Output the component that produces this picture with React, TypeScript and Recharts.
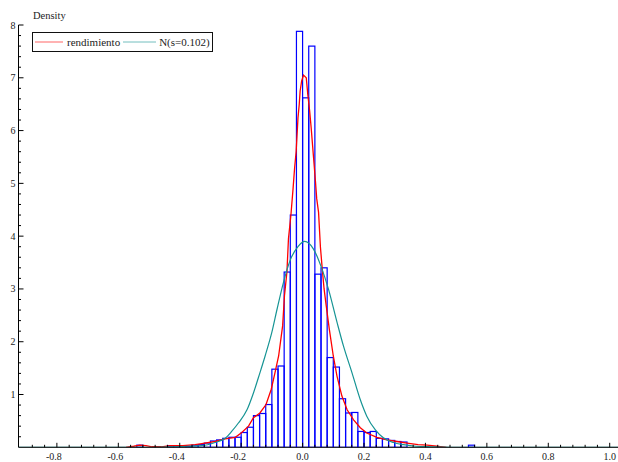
import { ComposedChart, Bar, Line, XAxis, YAxis } from 'recharts';

const X_MIN = -0.925;
const X_MAX = 1.027;
const BIN_WIDTH = 0.02;
const CHART_W = 618;
const CHART_H = 462;
const Y_AXIS_W = 18.5;
const X_AXIS_H = 14.7;
const TOP = 25;

// histogram (bin centres, density)
const binCenters = [
  -0.53, -0.43, -0.41, -0.39, -0.37, -0.35, -0.33, -0.31, -0.29, -0.27, -0.25, -0.23, -0.21,
  -0.19, -0.17, -0.15, -0.13, -0.11, -0.09, -0.07, -0.05, -0.03, -0.01, 0.01, 0.03, 0.05,
  0.07, 0.09, 0.11, 0.13, 0.15, 0.17, 0.19, 0.21, 0.23, 0.25, 0.27, 0.29, 0.31, 0.33, 0.55,
];
const binDensity = [
  0.04, 0.03, 0.03, 0.03, 0.02, 0.04, 0.05, 0.08, 0.12, 0.14, 0.17, 0.19, 0.19,
  0.28, 0.38, 0.6, 0.64, 0.81, 1.48, 1.54, 3.32, 4.4, 7.88, 6.62, 7.6, 3.28,
  3.4, 1.7, 1.52, 0.92, 0.65, 0.66, 0.3, 0.28, 0.3, 0.17, 0.16, 0.13, 0.11, 0.1, 0.04,
];

// kernel density "rendimiento"
const kdeX = [
  -0.575, -0.55, -0.53, -0.51, -0.49, -0.46, -0.43, -0.39, -0.37, -0.35, -0.328, -0.285,
  -0.252, -0.219, -0.198, -0.176, -0.16, -0.139, -0.119, -0.102, -0.09, -0.078, -0.065,
  -0.059, -0.051, -0.046, -0.038, -0.031, -0.026, -0.021, -0.015, -0.011, -0.008, -0.003,
  0.003, 0.012, 0.017, 0.023, 0.028, 0.035, 0.042, 0.046, 0.052, 0.058, 0.064, 0.07, 0.077,
  0.087, 0.1, 0.112, 0.128, 0.145, 0.166, 0.188, 0.209, 0.242, 0.274, 0.307, 0.34, 0.376,
  0.406, 0.437, 0.468,
];
const kdeY = [
  0, 0.02, 0.04, 0.03, 0.01, 0.01, 0.03, 0.03, 0.04, 0.05, 0.07, 0.11,
  0.16, 0.19, 0.28, 0.4, 0.56, 0.65, 0.81, 1.1, 1.41, 1.73, 2.3,
  2.87, 3.32, 3.95, 4.4, 4.9, 5.29, 5.6, 6.24, 6.49, 6.75, 6.94,
  7.05, 7.0, 6.68, 6.37, 6.05, 5.54, 5.03, 4.71, 4.45, 3.8, 3.38, 3.0, 2.68,
  2.24, 1.73, 1.35, 0.97, 0.71, 0.52, 0.37, 0.27, 0.19, 0.14, 0.11, 0.08, 0.05,
  0.04, 0.02, 0,
];

// normal reference "N(s=0.102)"
const normX = [
  -0.925, -0.5, -0.42, -0.37, -0.328, -0.285, -0.252, -0.231, -0.209, -0.181, -0.16, -0.139,
  -0.122, -0.1, -0.083, -0.062, -0.04, -0.015, 0.007, 0.035, 0.063, 0.084, 0.112, 0.133,
  0.161, 0.188, 0.209, 0.237, 0.263, 0.296, 0.329, 0.37, 0.42, 0.5, 1.027,
];
const normY = [
  0, 0, 0.01, 0.02, 0.03, 0.09, 0.17, 0.3, 0.46, 0.71, 1.03, 1.41,
  1.73, 2.18, 2.62, 3.13, 3.55, 3.8, 3.9, 3.76, 3.38, 3.0, 2.37, 1.92,
  1.41, 0.9, 0.59, 0.33, 0.18, 0.09, 0.05, 0.02, 0.01, 0, 0,
];

const xMajorTicks = [-0.8, -0.6, -0.4, -0.2, 0, 0.2, 0.4, 0.6, 0.8, 1.0];
const xMinorStep = 0.04;
const yMajorTicks = [1, 2, 3, 4, 5, 6, 7, 8];
const yMinorStep = 0.2;

const histData = binCenters.map((x, i) => ({ x, density: binDensity[i] }));
const kdeData = kdeX.map((x, i) => ({ x, y: kdeY[i] }));
const normData = normX.map((x, i) => ({ x, y: normY[i] }));

const xTicks: number[] = [];
for (let v = -0.88; v <= 1.0001; v += xMinorStep) xTicks.push(Math.round(v * 100) / 100);
const yTicks: number[] = [];
for (let v = yMinorStep; v <= 8.0001; v += yMinorStep) yTicks.push(Math.round(v * 10) / 10);

const BIN_PX = (BIN_WIDTH * (CHART_W - Y_AXIS_W)) / (X_MAX - X_MIN);
const FONT = '"Liberation Serif", "Times New Roman", serif';
const RED = '#ff0000';
const TEAL = '#169494';
const BLUE = '#0000ff';

const isXMajor = (v: number) => xMajorTicks.some((t) => Math.abs(t - v) < 1e-6);

const XTick = (props: any) => {
  const { x, y, payload } = props;
  const v = payload.value;
  const major = isXMajor(v);
  const label = v.toFixed(1);
  return (
    <g>
      <line x1={x} x2={x} y1={y} y2={y - (major ? 4.5 : 2.5)} stroke="#000" strokeWidth={1} />
      {major && (
        <text x={v < 0 ? x - 3 : x} y={y + 12.5} textAnchor="middle" fontSize={10} fontFamily={FONT} fill="#222">
          {label}
        </text>
      )}
    </g>
  );
};

const YTick = (props: any) => {
  const { x, y, payload } = props;
  const v = payload.value;
  const major = yMajorTicks.includes(v);
  return (
    <g>
      <line x1={x} x2={x + (major ? 5 : 2.5)} y1={y} y2={y} stroke="#000" strokeWidth={1} />
      {major && (
        <text x={x - 3} y={y + 3.5} textAnchor="end" fontSize={10} fontFamily={FONT} fill="#222">
          {v}
        </text>
      )}
    </g>
  );
};

const HistBar = (props: any) => {
  const { x, y, width, height } = props;
  if (!height || height <= 0) return null;
  const cx = x + width / 2;
  return (
    <rect x={cx - BIN_PX / 2} y={y} width={BIN_PX} height={height} fill="none" stroke={BLUE} strokeWidth={1.2} />
  );
};

export default function App() {
  return (
    <div style={{ position: 'relative', width: CHART_W, height: CHART_H, fontFamily: FONT, background: '#fff' }}>
      <style>{'body{margin:0}'}</style>
      <ComposedChart width={CHART_W} height={CHART_H} data={histData} margin={{ top: TOP, right: 0, bottom: 0, left: 0 }}>
        <XAxis
          type="number"
          dataKey="x"
          domain={[X_MIN, X_MAX]}
          allowDataOverflow
          ticks={xTicks}
          interval={0}
          tick={(p: any) => <XTick {...p} />}
          tickLine={false}
          tickSize={0}
          tickMargin={0}
          height={X_AXIS_H}
          stroke="#000"
        />
        <YAxis
          type="number"
          domain={[0, 8]}
          allowDataOverflow
          ticks={yTicks}
          interval={0}
          tick={(p: any) => <YTick {...p} />}
          tickLine={false}
          tickSize={0}
          tickMargin={0}
          width={Y_AXIS_W}
          stroke="#000"
        />
        <Line data={kdeData} dataKey="y" type="linear" stroke={RED} strokeWidth={1.3} dot={false} isAnimationActive={false} />
        <Bar dataKey="density" shape={(p: any) => <HistBar {...p} />} isAnimationActive={false} />
        <Line data={normData} dataKey="y" type="monotone" stroke={TEAL} strokeWidth={1.2} dot={false} isAnimationActive={false} />
      </ComposedChart>
      <div style={{ position: 'absolute', left: 33, top: 10, fontSize: 10.5, color: '#222' }}>Density</div>
      <div
        style={{
          position: 'absolute',
          left: 32,
          top: 32,
          width: 181,
          height: 20,
          boxSizing: 'border-box',
          border: '1.5px solid #111',
          display: 'flex',
          alignItems: 'center',
          fontSize: 11,
          color: '#222',
          background: '#fff',
        }}
      >
        <svg width={28} height={4} style={{ marginLeft: 2 }}>
          <line x1={0} x2={28} y1={2} y2={2} stroke={RED} strokeWidth={1} opacity={0.6} />
        </svg>
        <span style={{ marginLeft: 4 }}>rendimiento</span>
        <svg width={33} height={4} style={{ marginLeft: 3 }}>
          <line x1={0} x2={33} y1={2} y2={2} stroke={TEAL} strokeWidth={1} opacity={0.6} />
        </svg>
        <span style={{ marginLeft: 3 }}>N(s=0.102)</span>
      </div>
    </div>
  );
}
